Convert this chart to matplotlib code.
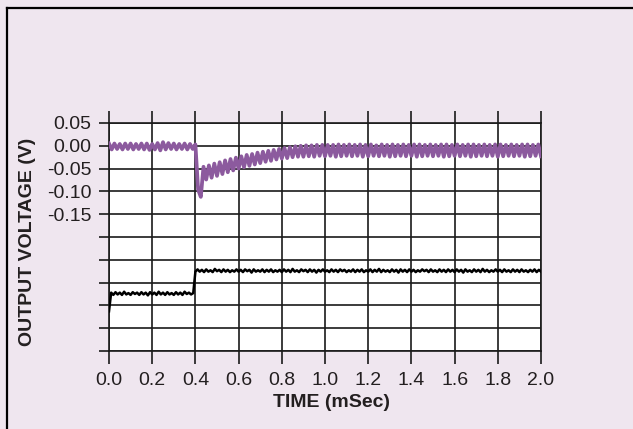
import numpy as np
import matplotlib.pyplot as plt
from matplotlib.lines import Line2D

plt.rcParams['font.family'] = ['Liberation Sans', 'DejaVu Sans']
plt.rcParams['axes.unicode_minus'] = False

# output ripple trace in mV, one sample every 0.0125 ms (rows = 0.2 ms)
purple_mv = [
    5, -8, 5, -7, 4, -8, 5, -7, 5, -8, 4, -7, 5, -8, 5, -9,
    4, -8, 6, -10, 8, -8, 6, -7, 5, -8, 4, -7, 5, -8, 4, -7,
    3, -96, -112, -46, -74, -43, -70, -39, -66, -36, -62, -32, -58, -29, -54, -26,
    -50, -23, -47, -20, -44, -18, -41, -15, -38, -13, -35, -11, -33, -9, -30, -7,
    -28, -5, -27, -3, -25, -1, -24, 0, -24, 1, -23, 1, -24, 2, -22, 2,
    -23, 2, -22, 2, -24, 3, -23, 2, -22, 3, -23, 2, -22, 3, -24, 2,
    -23, 3, -22, 1, -23, 3, -22, 2, -24, 3, -23, 2, -22, 3, -23, 2,
    -22, 3, -24, 3, -23, 2, -22, 3, -23, 2, -22, 3, -24, 3, -23, 2,
    -22, 3, -23, 2, -22, 3, -24, 3, -23, 2, -22, 3, -23, 2, -22, 3,
    -24, 3, -23, 2, -22, 3, -23, 2, -22, 3, -24, 3, -23, 2, -22, 3,
    -23,
]

# load step trace (same volts scale), one sample every 0.01 ms (rows = 0.2 ms)
black_mv = [
    -363, -322, -327, -321, -326, -322, -327, -320, -326, -323, -327, -321, -325, -322, -327, -321, -326, -322, -328, -321,
    -326, -322, -327, -320, -326, -322, -327, -321, -326, -323, -327, -321, -326, -322, -327, -320, -325, -322, -326, -323,
    -276, -271, -276, -272, -277, -271, -276, -273, -277, -270, -275, -272, -277, -271, -276, -272, -277, -273, -276, -271,
    -276, -272, -277, -271, -275, -272, -278, -271, -276, -273, -276, -271, -277, -272, -276, -271, -277, -273, -276, -272,
    -277, -271, -276, -272, -277, -270, -276, -273, -277, -271, -275, -272, -277, -271, -276, -272, -278, -272, -276, -271,
    -276, -273, -277, -271, -276, -272, -277, -271, -275, -272, -277, -273, -276, -271, -277, -272, -276, -271, -277, -273,
    -276, -271, -277, -272, -276, -270, -277, -272, -276, -273, -277, -271, -276, -272, -278, -271, -276, -272, -277, -271,
    -276, -272, -277, -273, -276, -271, -275, -272, -277, -271, -276, -273, -277, -271, -276, -272, -277, -271, -276, -272,
    -277, -271, -276, -272, -278, -271, -276, -273, -277, -271, -276, -272, -277, -270, -276, -272, -277, -273, -276, -271,
    -276, -272, -277, -271, -276, -273, -277, -271, -276, -272, -277, -271, -276, -273, -277, -272, -276, -271, -277, -272,
    -276,
]

x_ticks = [0.0, 0.2, 0.4, 0.6, 0.8, 1.0, 1.2, 1.4, 1.6, 1.8, 2.0]
y_ticks = [0.05, 0.0, -0.05, -0.10, -0.15, -0.20, -0.25, -0.30, -0.35, -0.40, -0.45]
y_labels = ["0.05", "0.00", "-0.05", "-0.10", "-0.15", "", "", "", "", "", ""]

t_purple = np.linspace(0, 2.0, len(purple_mv))
t_black = np.linspace(0, 2.0, len(black_mv))

bg = '#efe6ef'
fig = plt.figure(figsize=(6.33, 4.29), dpi=100)
fig.patch.set_facecolor(bg)
ax = fig.add_axes([109 / 633, 78 / 429, 432 / 633, 228 / 429])
ax.set_facecolor('white')

ax.plot(t_purple, np.array(purple_mv) / 1000, color='#8c5a9e', lw=2.7, zorder=3)
ax.plot(t_black, np.array(black_mv) / 1000, color='black', lw=1.8, zorder=3)

ax.set_xlim(0, 2.0)
ax.set_ylim(-0.45, 0.05)
ax.set_xticks(x_ticks)
ax.set_xticklabels([f"{v:.1f}" for v in x_ticks])
ax.set_yticks(y_ticks)
ax.set_yticklabels(y_labels)

ax.grid(True, color='#1a1a1a', lw=1.2)
ax.set_axisbelow(True)
for s in ax.spines.values():
    s.set_color('#1a1a1a')
    s.set_linewidth(1.2)

ax.tick_params(axis='x', top=True, labeltop=False, direction='out', length=9,
               width=1.2, color='#1a1a1a', labelsize=14, labelcolor='#231f20', pad=6)
ax.tick_params(axis='y', direction='out', length=7.5, width=1.2, color='#1a1a1a',
               labelsize=14, labelcolor='#231f20', pad=5)

ax.set_xlabel("TIME (mSec)", fontsize=14, fontweight='bold', color='#231f20')
ax.xaxis.set_label_coords(0.514, -0.19)
ax.set_ylabel("OUTPUT VOLTAGE (V)", fontsize=14, fontweight='bold', color='#231f20')
ax.yaxis.set_label_coords(-0.17, 0.48)

# outer frame (only left and top edges are inside the picture)
fig.add_artist(Line2D([7 / 633, 1], [1 - 8 / 429, 1 - 8 / 429], transform=fig.transFigure, color='black', lw=1.6))
fig.add_artist(Line2D([7 / 633, 7 / 633], [0, 1 - 8 / 429], transform=fig.transFigure, color='black', lw=1.6))

fig.savefig('out.png', dpi=100, facecolor=bg)
